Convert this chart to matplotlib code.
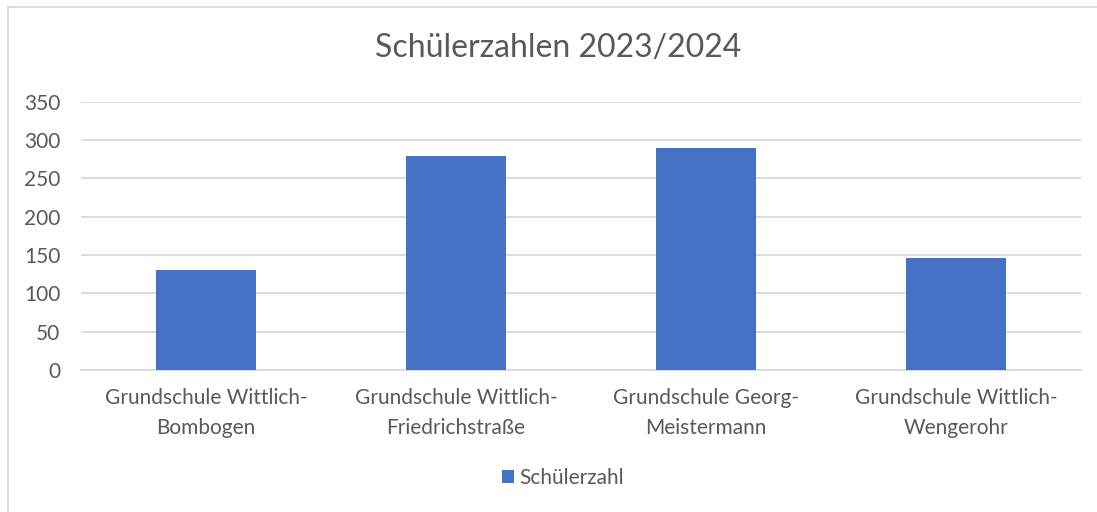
import matplotlib.pyplot as plt
from matplotlib.patches import Rectangle

schulen = ["Grundschule Wittlich-\nBombogen",
           "Grundschule Wittlich-\nFriedrichstraße",
           "Grundschule Georg-\nMeistermann",
           "Grundschule Wittlich-\nWengerohr"]
schuelerzahl = [131, 279, 290, 146]
yticks = [0, 50, 100, 150, 200, 250, 300, 350]

textcolor = '#595959'
gridcolor = '#D9D9D9'
barcolor = '#4472C4'
plt.rcParams['font.family'] = ['Lato', 'DejaVu Sans']

W, H = 1097, 512
fig = plt.figure(figsize=(W / 100, H / 100), dpi=100, facecolor='white')

# chart border (only top and left edges visible in the crop)
fig.patches.append(Rectangle((8 / W, -0.1), 1.2, 1 - 7 / H + 0.1, transform=fig.transFigure,
                             fill=False, edgecolor=gridcolor, linewidth=1.3))

ax = fig.add_axes([81 / W, 1 - 370 / H, 1000 / W, (370 - 101.7) / H])
x = range(len(schulen))
ax.bar(x, schuelerzahl, width=0.4, color=barcolor, label='Schülerzahl', zorder=3)
ax.set_xlim(-0.5, len(schulen) - 0.5)
ax.set_ylim(0, 350)
ax.set_yticks(yticks)
ax.set_xticks(list(x))
ax.set_xticklabels(schulen, fontsize=15, color=textcolor, linespacing=1.6)
ax.tick_params(axis='y', length=0, pad=15, labelsize=15, labelcolor=textcolor)
ax.tick_params(axis='x', length=0, pad=13)
ax.grid(axis='y', color=gridcolor, linewidth=1.3, zorder=0)
for s in ['top', 'right', 'left']:
    ax.spines[s].set_visible(False)
ax.spines['bottom'].set_color(gridcolor)
ax.spines['bottom'].set_linewidth(1.3)

fig.text(558 / W, 1 - 48 / H, 'Schülerzahlen 2023/2024', ha='center', va='center',
         fontsize=23, color=textcolor)

leg = fig.legend(loc='center', bbox_to_anchor=(563 / W, 1 - 478 / H), frameon=False,
                 fontsize=15, handlelength=0.6, handleheight=0.6, handletextpad=0.25,
                 labelcolor=textcolor)

plt.savefig('out.png', dpi=100, facecolor='white')
